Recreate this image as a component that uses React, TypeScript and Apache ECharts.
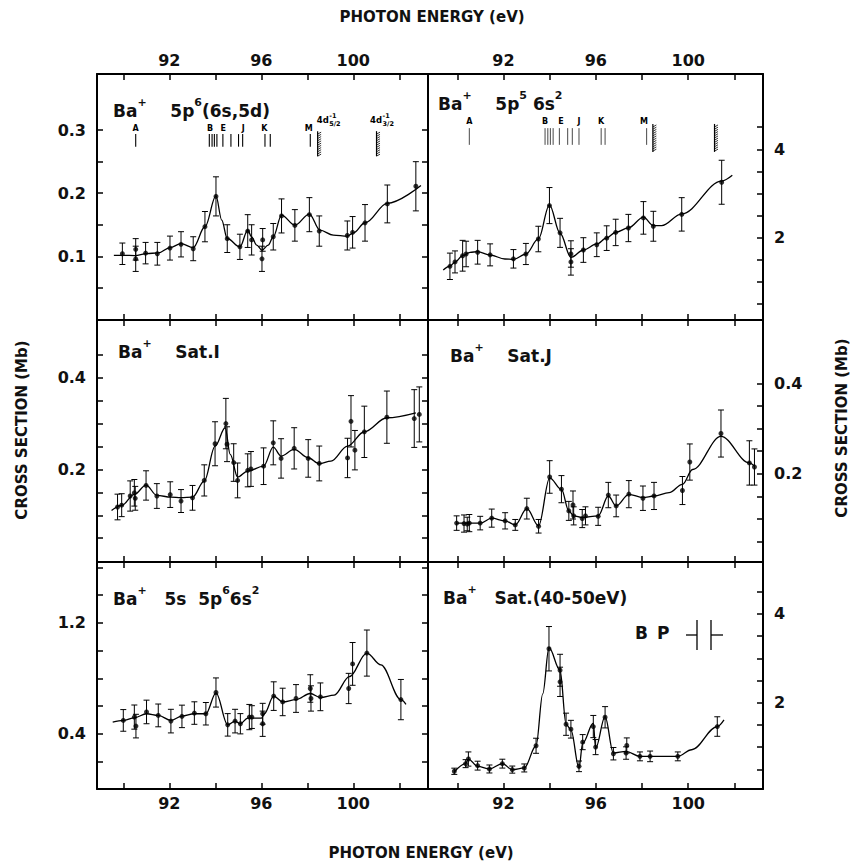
import React, { useEffect, useRef } from 'react';
import * as echarts from 'echarts';

const FONT = '"DejaVu Sans", "Liberation Sans", Arial, sans-serif';

// ---------- shared axis ticks ----------
const energyTicks = [90, 92, 94, 96, 98, 100, 102];
const energyLabels = [92, 96, 100];

// ---------- Panel A: Ba+ 5p6(6s,5d) ----------
const aEnergy = [89.96, 90.54, 90.54, 90.97, 91.48, 92.03, 92.51, 93.04, 93.55, 94.03, 94.52, 95.07, 95.41, 95.58, 96.06, 96.03, 96.52, 96.88, 97.46, 98.09, 98.52, 99.74, 99.97, 100.51, 101.48, 102.72];
const aSigma = [0.104, 0.111, 0.096, 0.105, 0.104, 0.113, 0.119, 0.112, 0.147, 0.195, 0.128, 0.115, 0.140, 0.126, 0.126, 0.096, 0.131, 0.164, 0.149, 0.166, 0.140, 0.133, 0.138, 0.153, 0.183, 0.211];
const aError = [0.017, 0.017, 0.020, 0.017, 0.018, 0.019, 0.020, 0.019, 0.024, 0.031, 0.022, 0.020, 0.026, 0.024, 0.018, 0.020, 0.021, 0.027, 0.025, 0.027, 0.024, 0.023, 0.025, 0.029, 0.030, 0.039];
const aCurveE = [89.59, 90.0, 90.51, 91.01, 91.52, 92.03, 92.51, 93.04, 93.55, 94.03, 94.28, 94.52, 95.07, 95.41, 95.58, 95.8, 96.03, 96.3, 96.52, 96.88, 97.46, 98.09, 98.55, 99.13, 99.74, 100.0, 100.51, 101.48, 102.94];
const aCurveS = [0.1016, 0.1016, 0.1011, 0.1043, 0.1053, 0.1138, 0.1202, 0.1138, 0.1468, 0.1957, 0.1574, 0.1282, 0.1149, 0.1415, 0.1309, 0.1176, 0.1096, 0.1176, 0.1309, 0.1654, 0.1495, 0.167, 0.1415, 0.1335, 0.1319, 0.1372, 0.1532, 0.184, 0.2122];
const aTicks = [0.05, 0.1, 0.15, 0.2, 0.25, 0.3];
const aLabels = [0.1, 0.2, 0.3];
// resonance markers
const aLineE = [90.54, 93.74, 93.86, 93.96, 94.07, 94.33, 94.68, 95.01, 95.19, 96.16, 96.39, 98.13];
const aMarkE = [90.54, 93.77, 94.35, 95.22, 96.13, 98.06];
const aMarkText = ['A', 'B', 'E', 'J', 'K', 'M'];
const aEdgeE = [98.45, 101.01];
const aEdgeLabelE = [98.41, 100.73];
const aEdgeSub = ['5/2', '3/2'];

// ---------- Panel B: Ba+ 5p5 6s2 ----------
const bEnergy = [89.68, 89.9, 90.23, 90.38, 90.88, 91.42, 92.43, 92.97, 93.51, 93.99, 94.45, 94.92, 94.92, 95.46, 96.04, 96.47, 96.86, 97.41, 98.06, 98.49, 99.72, 101.45];
const bSigma = [1.34, 1.44, 1.58, 1.62, 1.66, 1.6, 1.51, 1.62, 1.96, 2.72, 2.1, 1.62, 1.44, 1.71, 1.83, 1.98, 2.11, 2.21, 2.44, 2.25, 2.52, 3.25];
const bError = [0.3, 0.25, 0.35, 0.29, 0.27, 0.25, 0.21, 0.24, 0.29, 0.41, 0.33, 0.3, 0.3, 0.28, 0.27, 0.28, 0.3, 0.31, 0.37, 0.34, 0.38, 0.5];
const bCurveE = [89.39, 89.68, 89.9, 90.23, 90.55, 90.88, 91.42, 92.06, 92.43, 92.97, 93.51, 93.99, 94.45, 94.92, 95.46, 96.04, 96.47, 96.86, 97.41, 98.06, 98.49, 98.85, 99.72, 101.45, 101.91];
const bCurveS = [1.255, 1.346, 1.437, 1.582, 1.658, 1.673, 1.597, 1.506, 1.498, 1.62, 1.962, 2.738, 2.091, 1.544, 1.711, 1.848, 1.985, 2.114, 2.213, 2.456, 2.266, 2.266, 2.532, 3.278, 3.407];
const bTicks = [0.5, 1, 1.5, 2, 2.5, 3, 3.5, 4, 4.5];
const bLabels = [2, 4];
const bLineE = [90.52, 93.8, 93.92, 94.03, 94.15, 94.42, 94.78, 94.98, 95.27, 96.23, 96.4, 98.2];
const bMarkE = [90.52, 93.8, 94.49, 95.27, 96.23, 98.09];
const bMarkText = ['A', 'B', 'E', 'J', 'K', 'M'];
const bEdgeE = [98.47, 101.14];

// ---------- Panel C: Ba+ Sat.I ----------
const cEnergy = [89.75, 89.93, 90.3, 90.48, 90.52, 90.99, 91.46, 92.04, 92.51, 93.01, 93.52, 93.99, 94.46, 94.51, 94.8, 94.97, 95.41, 95.55, 96.1, 96.52, 96.86, 97.43, 98.04, 98.52, 99.75, 99.9, 100.07, 100.48, 101.46, 102.65, 102.87];
const cSigma = [0.118, 0.122, 0.142, 0.149, 0.137, 0.165, 0.142, 0.145, 0.131, 0.138, 0.176, 0.256, 0.3, 0.255, 0.215, 0.176, 0.198, 0.201, 0.207, 0.258, 0.224, 0.246, 0.224, 0.213, 0.225, 0.305, 0.242, 0.282, 0.314, 0.311, 0.32];
const cError = [0.028, 0.025, 0.033, 0.029, 0.026, 0.032, 0.027, 0.028, 0.025, 0.027, 0.034, 0.048, 0.055, 0.038, 0.041, 0.038, 0.036, 0.038, 0.04, 0.048, 0.043, 0.045, 0.041, 0.038, 0.043, 0.056, 0.043, 0.056, 0.057, 0.063, 0.06];
const cCurveE = [89.49, 89.93, 90.48, 90.99, 91.46, 92.07, 92.51, 93.01, 93.52, 93.99, 94.43, 94.65, 94.97, 95.41, 96.1, 96.52, 96.86, 97.43, 98.04, 98.52, 99.03, 99.75, 100.48, 101.46, 102.72];
const cCurveS = [0.1105, 0.1215, 0.1455, 0.1658, 0.1433, 0.1396, 0.1382, 0.1396, 0.1745, 0.2509, 0.2909, 0.2327, 0.1833, 0.1964, 0.2073, 0.2487, 0.2291, 0.2436, 0.2255, 0.2124, 0.2182, 0.251, 0.2822, 0.3127, 0.3236];
const cTicks = [0.05, 0.1, 0.15, 0.2, 0.25, 0.3, 0.35, 0.4, 0.45];
const cLabels = [0.2, 0.4];

// ---------- Panel D: Ba+ Sat.J ----------
const dEnergy = [89.97, 90.29, 90.43, 90.52, 90.99, 91.49, 92.07, 92.51, 93.01, 93.52, 94.0, 94.51, 94.83, 95.01, 95.04, 95.41, 95.55, 96.1, 96.54, 96.88, 97.43, 98.04, 98.52, 99.75, 100.07, 101.42, 102.65, 102.87];
const dSigma = [0.091, 0.09, 0.089, 0.091, 0.091, 0.102, 0.096, 0.087, 0.123, 0.084, 0.193, 0.166, 0.118, 0.131, 0.107, 0.101, 0.107, 0.106, 0.153, 0.129, 0.155, 0.146, 0.151, 0.163, 0.226, 0.289, 0.224, 0.215];
const dError = [0.016, 0.019, 0.015, 0.019, 0.015, 0.02, 0.018, 0.012, 0.023, 0.015, 0.036, 0.03, 0.021, 0.031, 0.02, 0.02, 0.02, 0.02, 0.028, 0.024, 0.03, 0.027, 0.03, 0.031, 0.04, 0.052, 0.049, 0.04];
const dCurveE = [89.97, 90.99, 91.49, 92.07, 92.51, 93.01, 93.52, 94.0, 94.51, 94.83, 95.04, 95.41, 96.1, 96.54, 96.88, 97.43, 98.04, 98.52, 99.17, 99.75, 100.19, 101.42, 102.65, 102.87];
const dCurveS = [0.0908, 0.0908, 0.1018, 0.096, 0.0872, 0.1231, 0.085, 0.1912, 0.1656, 0.1179, 0.107, 0.1033, 0.107, 0.1509, 0.1289, 0.1546, 0.1473, 0.1509, 0.1582, 0.1766, 0.2095, 0.2828, 0.2242, 0.2168];
const dTicks = [0.05, 0.1, 0.15, 0.2, 0.25, 0.3, 0.35, 0.4];
const dLabels = [0.2, 0.4];

// ---------- Panel E: Ba+ 5s 5p6 6s2 ----------
const eEnergy = [90.0, 90.48, 90.55, 91.01, 91.52, 92.07, 92.55, 93.09, 93.59, 94.03, 94.54, 94.86, 95.09, 95.48, 95.59, 96.06, 96.06, 96.54, 96.93, 97.51, 98.13, 98.16, 98.57, 99.8, 99.97, 100.59, 102.07];
const eSigma = [0.497, 0.521, 0.456, 0.558, 0.533, 0.492, 0.526, 0.55, 0.545, 0.698, 0.465, 0.492, 0.473, 0.521, 0.521, 0.545, 0.473, 0.672, 0.63, 0.655, 0.727, 0.655, 0.667, 0.727, 0.904, 0.982, 0.647];
const eError = [0.078, 0.087, 0.085, 0.085, 0.082, 0.085, 0.081, 0.081, 0.081, 0.105, 0.081, 0.085, 0.073, 0.091, 0.082, 0.075, 0.091, 0.103, 0.099, 0.1, 0.099, 0.091, 0.1, 0.109, 0.154, 0.166, 0.145];
const eCurveE = [89.54, 90.0, 90.48, 91.01, 91.52, 92.07, 92.55, 93.09, 93.59, 94.03, 94.54, 94.86, 95.09, 95.41, 96.01, 96.13, 96.54, 96.93, 97.51, 98.13, 98.57, 99.17, 99.83, 100.59, 101.2, 102.07, 102.29];
const eCurveS = [0.485, 0.497, 0.516, 0.545, 0.533, 0.497, 0.528, 0.545, 0.545, 0.696, 0.465, 0.492, 0.473, 0.514, 0.514, 0.545, 0.672, 0.63, 0.647, 0.691, 0.662, 0.679, 0.812, 0.982, 0.897, 0.647, 0.613];
const eTicks = [0.2, 0.4, 0.6, 0.8, 1.0, 1.2, 1.4, 1.6];
const eLabels = [0.4, 1.2];

// ---------- Panel F: Ba+ Sat.(40-50eV) ----------
const fEnergy = [89.87, 90.36, 90.48, 90.88, 91.39, 91.95, 92.38, 92.9, 93.41, 93.97, 94.45, 94.45, 94.71, 94.92, 95.27, 95.43, 95.89, 95.99, 96.4, 96.76, 97.31, 97.34, 97.91, 98.35, 99.55, 101.26];
const fSigma = [0.455, 0.627, 0.731, 0.582, 0.507, 0.627, 0.493, 0.53, 1.03, 3.216, 2.731, 2.47, 1.515, 1.403, 0.567, 1.112, 1.463, 1.0, 1.672, 0.851, 0.866, 1.037, 0.791, 0.791, 0.791, 1.463];
const fError = [0.07, 0.09, 0.16, 0.1, 0.09, 0.1, 0.08, 0.09, 0.17, 0.5, 0.36, 0.33, 0.25, 0.2, 0.12, 0.17, 0.25, 0.17, 0.24, 0.14, 0.14, 0.17, 0.1, 0.12, 0.1, 0.22];
const fCurveE = [89.87, 90.36, 90.48, 90.88, 91.39, 91.95, 92.38, 92.9, 93.41, 93.7, 93.97, 94.45, 94.71, 94.92, 95.27, 95.43, 95.89, 95.99, 96.4, 96.76, 97.31, 97.91, 98.35, 99.55, 100.15, 101.26, 101.55];
const fCurveS = [0.44, 0.627, 0.731, 0.567, 0.507, 0.627, 0.493, 0.53, 1.03, 2.2, 3.239, 2.731, 1.515, 1.388, 0.53, 1.09, 1.537, 0.978, 1.687, 0.866, 0.903, 0.791, 0.791, 0.791, 0.94, 1.463, 1.612];
const fTicks = [0.5, 1, 1.5, 2, 2.5, 3, 3.5, 4, 4.5];
const fLabels = [2, 4];

// ---------- layout (pixels) ----------
const COL_LEFT = [97, 428];
const COL_W = [331, 335];
const ROW_TOP = [74, 320, 562];
const ROW_H = [246, 242, 227];
const X_RANGE = [[88.857, 103.248], [88.73, 103.24]];

const panels = [
  { e: aEnergy, s: aSigma, err: aError, ce: aCurveE, cs: aCurveS, ticks: aTicks, labels: aLabels, y: [-0.001, 0.389], col: 0, row: 0,
    title: '{b|Ba}{s|+}{b|    5p}{s|6}{b|(6s,5d)}', tx: 113, ty: 97 },
  { e: bEnergy, s: bSigma, err: bError, ce: bCurveE, cs: bCurveS, ticks: bTicks, labels: bLabels, y: [0.12, 5.71], col: 1, row: 0,
    title: '{b|Ba}{s|+}{b|    5p}{s|5}{b| 6s}{s|2}', tx: 438, ty: 90 },
  { e: cEnergy, s: cSigma, err: cError, ce: cCurveE, cs: cCurveS, ticks: cTicks, labels: cLabels, y: [-0.002, 0.526], col: 0, row: 1,
    title: '{b|Ba}{s|+}{b|    Sat.I}', tx: 118, ty: 338 },
  { e: dEnergy, s: dSigma, err: dError, ce: dCurveE, cs: dCurveS, ticks: dTicks, labels: dLabels, y: [0.005, 0.54], col: 1, row: 1,
    title: '{b|Ba}{s|+}{b|    Sat.J}', tx: 450, ty: 342 },
  { e: eEnergy, s: eSigma, err: eError, ce: eCurveE, cs: eCurveS, ticks: eTicks, labels: eLabels, y: [0.003, 1.638], col: 0, row: 2,
    title: '{b|Ba}{s|+}{b|   5s  5p}{s|6}{b|6s}{s|2}', tx: 113, ty: 585 },
  { e: fEnergy, s: fSigma, err: fError, ce: fCurveE, cs: fCurveS, ticks: fTicks, labels: fLabels, y: [0.056, 5.17], col: 1, row: 2,
    title: '{b|Ba}{s|+}{b|   Sat.(40-50eV)}', tx: 443, ty: 584 },
];

// marker y-levels (in each panel's own units)
const A_MARK = { label: 0.3024, top: 0.2937, bot: 0.2738, hTop: 0.2984, hBot: 0.2588, edgeLabel: 0.3159 };
const B_MARK = { label: 4.64, top: 4.48, bot: 4.1, hTop: 4.575, hBot: 3.94 };

const tickLabelStyle = { color: '#111', fontFamily: FONT, fontWeight: 'bold' as const, fontSize: 16 };

const errorBar = (params: any, api: any) => {
  const x = api.value(0), y = api.value(1), d = api.value(2);
  const hi = api.coord([x, y + d]);
  const lo = api.coord([x, y - d]);
  const w = 3;
  const st = { stroke: '#000', lineWidth: 1 };
  return {
    type: 'group',
    children: [
      { type: 'line', shape: { x1: hi[0], y1: hi[1], x2: lo[0], y2: lo[1] }, style: st },
      { type: 'line', shape: { x1: hi[0] - w, y1: hi[1], x2: hi[0] + w, y2: hi[1] }, style: st },
      { type: 'line', shape: { x1: lo[0] - w, y1: lo[1], x2: lo[0] + w, y2: lo[1] }, style: st },
    ],
  };
};

const lineMarks = (yTop: number, yBot: number, width: number, color: string) => (params: any, api: any) => {
  const e = api.value(0);
  const a = api.coord([e, yTop]);
  const b = api.coord([e, yBot]);
  return { type: 'line', shape: { x1: a[0], y1: a[1], x2: b[0], y2: b[1] }, style: { stroke: color, lineWidth: width } };
};

const textMarks = (texts: string[], y: number, size: number) => (params: any, api: any) => {
  const e = api.value(0);
  const p = api.coord([e, y]);
  return {
    type: 'text', x: p[0], y: p[1],
    style: { text: texts[params.dataIndex], font: `bold ${size}px ${FONT}`, fill: '#000', align: 'center', verticalAlign: 'middle', textAlign: 'center', textVerticalAlign: 'middle' },
  };
};

const hatchMarks = (yTop: number, yBot: number) => (params: any, api: any) => {
  const e = api.value(0);
  const a = api.coord([e, yTop]);
  const b = api.coord([e, yBot]);
  const children: any[] = [
    { type: 'line', shape: { x1: a[0], y1: a[1], x2: b[0], y2: b[1] }, style: { stroke: '#000', lineWidth: 1.2 } },
  ];
  for (let yy = a[1] + 1; yy < b[1] - 1; yy += 2.2) {
    children.push({ type: 'line', shape: { x1: a[0], y1: yy + 2, x2: a[0] + 3.5, y2: yy }, style: { stroke: '#000', lineWidth: 0.8 } });
  }
  return { type: 'group', children };
};

const edgeLabels = (subs: string[], y: number) => (params: any, api: any) => {
  const e = api.value(0);
  const p = api.coord([e, y]);
  const base = { fill: '#000', align: 'left', verticalAlign: 'middle', textAlign: 'left', textVerticalAlign: 'middle' };
  return {
    type: 'group',
    children: [
      { type: 'text', x: p[0], y: p[1], style: { ...base, text: '4d', font: `bold 8.5px ${FONT}` } },
      { type: 'text', x: p[0] + 12.5, y: p[1] - 4, style: { ...base, text: '-1', font: `bold 6.5px ${FONT}` } },
      { type: 'text', x: p[0] + 12.5, y: p[1] + 4, style: { ...base, text: subs[params.dataIndex], font: `bold 6.5px ${FONT}` } },
    ],
  };
};

function buildOption() {
  const grid: any[] = [];
  const xAxis: any[] = [];
  const yAxis: any[] = [];
  const series: any[] = [];
  const title: any[] = [];

  const axisLine = { show: true, onZero: false, lineStyle: { color: '#000', width: 2 } };
  const tickLine = { color: '#000', width: 1.5 };

  panels.forEach((p, i) => {
    grid.push({ left: COL_LEFT[p.col], top: ROW_TOP[p.row], width: COL_W[p.col], height: ROW_H[p.row] });
    const [xmin, xmax] = X_RANGE[p.col];
    ['bottom', 'top'].forEach((pos) => {
      xAxis.push({
        type: 'value', gridIndex: i, position: pos, min: xmin, max: xmax,
        axisLine, splitLine: { show: false },
        axisTick: { show: true, inside: true, length: 6, lineStyle: tickLine, customValues: energyTicks },
        axisLabel: {
          show: (pos === 'bottom' && p.row === 2) || (pos === 'top' && p.row === 0),
          customValues: energyLabels, margin: pos === 'bottom' ? 6 : 6, ...tickLabelStyle,
        },
      });
    });
    ['left', 'right'].forEach((pos) => {
      const own = (pos === 'left' && p.col === 0) || (pos === 'right' && p.col === 1);
      yAxis.push({
        type: 'value', gridIndex: i, position: pos, min: p.y[0], max: p.y[1],
        axisLine, splitLine: { show: false },
        axisTick: { show: own || p.col === 0, inside: true, length: 6, lineStyle: tickLine, customValues: p.ticks },
        axisLabel: { show: own, customValues: p.labels, margin: 11, ...tickLabelStyle },
      });
    });
    const xi = 2 * i, yi = 2 * i;
    series.push({
      type: 'line', xAxisIndex: xi, yAxisIndex: yi, silent: true, z: 3,
      data: p.ce.map((e, k) => [e, p.cs[k]]),
      smooth: 0.35, smoothMonotone: 'x', symbol: 'none',
      lineStyle: { color: '#000', width: 1.3 },
    });
    series.push({
      type: 'custom', xAxisIndex: xi, yAxisIndex: yi, silent: true, z: 4, clip: false,
      encode: { x: 0, y: 1 },
      data: p.e.map((e, k) => [e, p.s[k], p.err[k]]),
      renderItem: errorBar,
    });
    series.push({
      type: 'scatter', xAxisIndex: xi, yAxisIndex: yi, silent: true, z: 5,
      data: p.e.map((e, k) => [e, p.s[k]]),
      symbol: 'circle', symbolSize: 5, itemStyle: { color: '#000' },
    });
    title.push({
      text: p.title, left: p.tx, top: p.ty, padding: 0,
      textStyle: {
        rich: {
          b: { fontFamily: FONT, fontWeight: 'bold', fontSize: 17, color: '#111', lineHeight: 22, verticalAlign: 'bottom' },
          s: { fontFamily: FONT, fontWeight: 'bold', fontSize: 11, color: '#111', lineHeight: 12, verticalAlign: 'top' },
        },
      },
    });
  });

  // resonance markers, panel A (index 0) and panel B (index 1)
  const mk = (xi: number, data: number[][], renderItem: any) => ({
    type: 'custom', xAxisIndex: xi, yAxisIndex: xi, silent: true, clip: false, z: 6, encode: { x: 0, y: 1 }, data, renderItem,
  });
  series.push(mk(0, aLineE.map((e) => [e, A_MARK.top]), lineMarks(A_MARK.top, A_MARK.bot, 1.1, '#000')));
  series.push(mk(0, aMarkE.map((e) => [e, A_MARK.label]), textMarks(aMarkText, A_MARK.label, 8)));
  series.push(mk(0, aEdgeE.map((e) => [e, A_MARK.hTop]), hatchMarks(A_MARK.hTop, A_MARK.hBot)));
  series.push(mk(0, aEdgeLabelE.map((e) => [e, A_MARK.edgeLabel]), edgeLabels(aEdgeSub, A_MARK.edgeLabel)));
  series.push(mk(2, bLineE.map((e) => [e, B_MARK.top]), lineMarks(B_MARK.top, B_MARK.bot, 0.9, '#333')));
  series.push(mk(2, bMarkE.map((e) => [e, B_MARK.label]), textMarks(bMarkText, B_MARK.label, 8)));
  series.push(mk(2, bEdgeE.map((e) => [e, B_MARK.hTop]), hatchMarks(B_MARK.hTop, B_MARK.hBot)));

  const axTitle = (text: string, x: number, y: number, rotation: number) => ({
    type: 'text', x, y, rotation,
    style: { text, font: `bold 15px ${FONT}`, fill: '#111', align: 'center', verticalAlign: 'middle', textAlign: 'center', textVerticalAlign: 'middle' },
  });
  const ln = (x1: number, y1: number, x2: number, y2: number) => ({
    type: 'line', shape: { x1, y1, x2, y2 }, style: { stroke: '#000', lineWidth: 1.3 },
  });
  const graphic = [
    axTitle('PHOTON ENERGY (eV)', 432, 17, 0),
    axTitle('PHOTON ENERGY (eV)', 421, 853, 0),
    axTitle('CROSS SECTION (Mb)', 22, 430, Math.PI / 2),
    axTitle('CROSS SECTION (Mb)', 842, 428, Math.PI / 2),
    { type: 'text', x: 635, y: 633, style: { text: 'B', font: `bold 17px ${FONT}`, fill: '#111', align: 'left', verticalAlign: 'middle', textAlign: 'left', textVerticalAlign: 'middle' } },
    { type: 'text', x: 657, y: 633, style: { text: 'P', font: `bold 17px ${FONT}`, fill: '#111', align: 'left', verticalAlign: 'middle', textAlign: 'left', textVerticalAlign: 'middle' } },
    ln(697, 620, 697, 650),
    ln(686, 635, 697, 635),
    ln(711, 620, 711, 650),
    ln(711, 635, 723, 635),
  ];

  return { animation: false, backgroundColor: '#fff', grid, xAxis, yAxis, series, title, graphic };
}

export default function App() {
  const ref = useRef<HTMLDivElement>(null);
  useEffect(() => {
    if (!ref.current) return;
    const chart = echarts.init(ref.current, undefined, { renderer: 'svg' });
    chart.setOption(buildOption() as any);
    return () => chart.dispose();
  }, []);
  return (
    <div style={{ position: 'fixed', left: 0, top: 0, width: 856, height: 865, background: '#fff' }}>
      <div ref={ref} style={{ width: 856, height: 865 }} />
    </div>
  );
}
